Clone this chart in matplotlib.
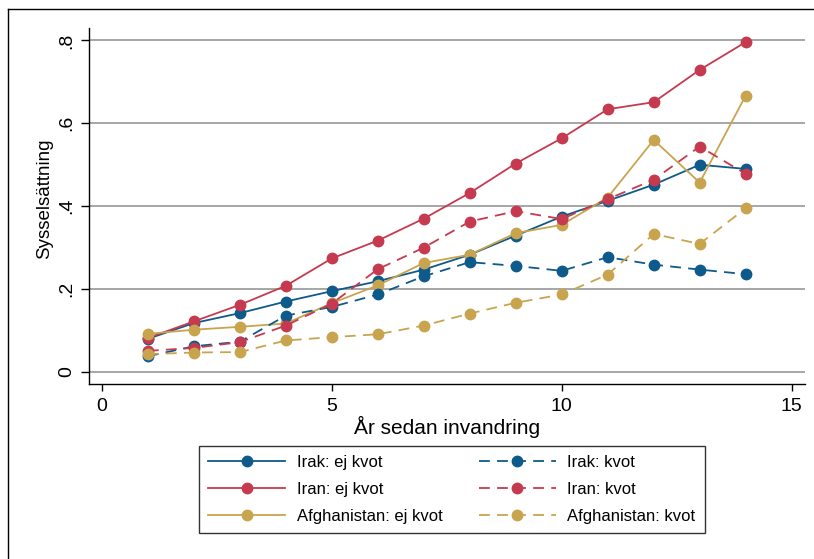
import matplotlib.pyplot as plt
from matplotlib.lines import Line2D

plt.rcParams['font.family'] = ['Liberation Sans', 'DejaVu Sans']

# data
ar = [1, 2, 3, 4, 5, 6, 7, 8, 9, 10, 11, 12, 13, 14]
irak_ej = [0.080, 0.118, 0.142, 0.170, 0.195, 0.219, 0.247, 0.283, 0.329, 0.375, 0.413, 0.452, 0.500, 0.490]
iran_ej = [0.082, 0.122, 0.162, 0.208, 0.274, 0.317, 0.370, 0.432, 0.503, 0.564, 0.634, 0.651, 0.729, 0.796]
afgh_ej = [0.092, 0.102, 0.109, 0.117, 0.166, 0.209, 0.263, 0.283, 0.335, 0.355, 0.421, 0.560, 0.457, 0.667]
irak_kvot = [0.038, 0.062, 0.073, 0.136, 0.157, 0.187, 0.231, 0.265, 0.256, 0.244, 0.277, 0.259, 0.247, 0.236]
iran_kvot = [0.051, 0.058, 0.072, 0.112, 0.165, 0.248, 0.300, 0.363, 0.388, 0.369, 0.417, 0.464, 0.544, 0.478]
afgh_kvot = [0.043, 0.047, 0.048, 0.076, 0.084, 0.091, 0.112, 0.141, 0.167, 0.187, 0.235, 0.333, 0.309, 0.395]

blue = "#0e5a8a"
red = "#c63a4f"
gold = "#c8a44f"

fig = plt.figure(figsize=(8.14, 5.59), dpi=100)
ax = fig.add_axes([89/814, 1 - 384/559, (805 - 89)/814, (384 - 28)/559])

series = [
    (irak_ej, blue, "-", "Irak: ej kvot"),
    (iran_ej, red, "-", "Iran: ej kvot"),
    (afgh_ej, gold, "-", "Afghanistan: ej kvot"),
    (irak_kvot, blue, "--", "Irak: kvot"),
    (iran_kvot, red, "--", "Iran: kvot"),
    (afgh_kvot, gold, "--", "Afghanistan: kvot"),
]
handles = []
for vals, col, ls, lab in series:
    h, = ax.plot(ar, vals, color=col, linestyle=ls, linewidth=1.3, marker='o',
                 markersize=7.5, label=lab, zorder=3)
    if ls == "--":
        h.set_dashes((6, 4))
    handles.append(h)

ax.set_xlim(-0.28, 15.29)
ax.set_ylim(-0.029, 0.83)
ax.set_xticks([0, 5, 10, 15])
ax.set_yticks([0, 0.2, 0.4, 0.6, 0.8])
ax.set_yticklabels(["0", ".2", ".4", ".6", ".8"], rotation=90, va='center')
ax.tick_params(axis='both', labelsize=14, width=1, color='black', direction='out')
ax.tick_params(axis='x', length=5, pad=5)
ax.tick_params(axis='y', length=6, pad=4)
ax.grid(axis='y', color='#a6a6a6', linewidth=1.4, zorder=0)
ax.set_axisbelow(True)
for s in ["top", "right"]:
    ax.spines[s].set_visible(False)
ax.spines["left"].set_linewidth(1)
ax.spines["bottom"].set_linewidth(1)

ax.set_xlabel("År sedan invandring", fontsize=15, labelpad=1)
ax.set_ylabel("Sysselsättning", fontsize=13.5)
ax.yaxis.set_label_coords(-36/716, 0.52)

leg = fig.legend(handles=handles, ncol=2, loc='upper center',
                 bbox_to_anchor=(452/814, 1 - 446/559), borderaxespad=0,
                 fontsize=12, frameon=True, fancybox=False, edgecolor='black',
                 handlelength=4.6, handletextpad=0.7, columnspacing=2.2,
                 borderpad=0.55, labelspacing=0.7)
leg.get_frame().set_linewidth(1)

# outer frame
fig.add_artist(Line2D([8/814, 8/814], [0, 1 - 9/559], color='black', linewidth=1))
fig.add_artist(Line2D([8/814, 1], [1 - 9/559, 1 - 9/559], color='black', linewidth=1))

fig.savefig("out.png", dpi=100)
